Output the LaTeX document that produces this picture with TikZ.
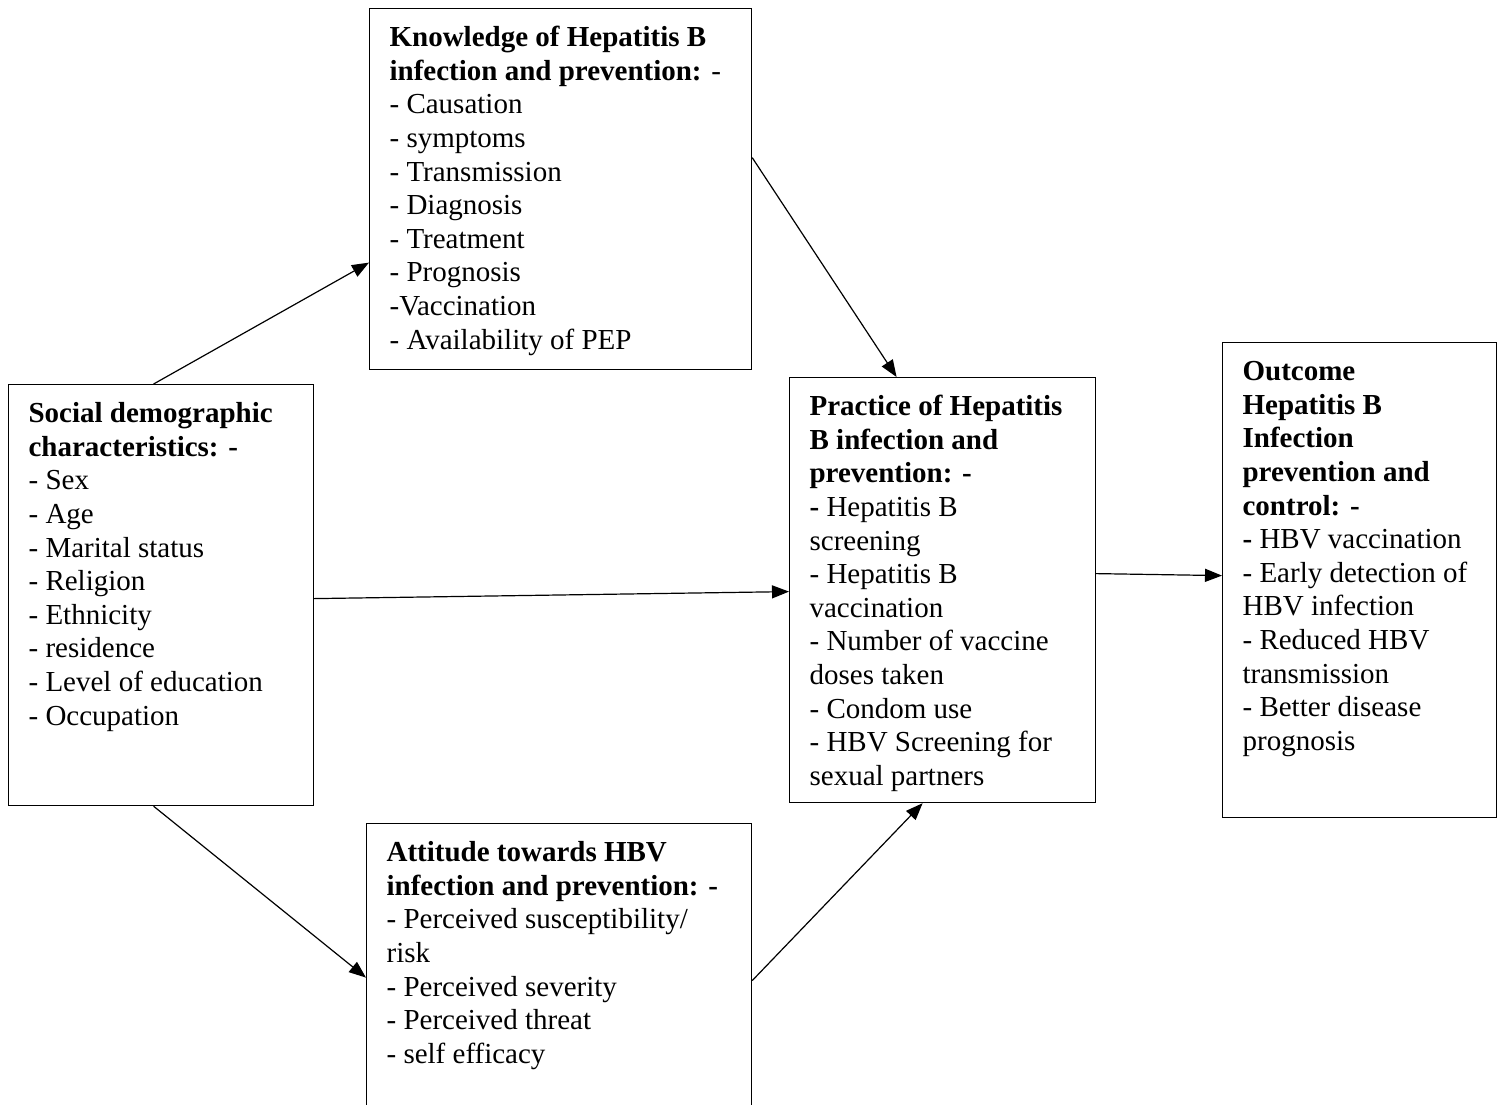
\documentclass[tikz,border=0pt]{standalone}
\usepackage{fontspec}
\setmainfont{Liberation Serif}
\usetikzlibrary{arrows.meta, calc}
\tikzset{
  >={Triangle[length=17pt, width=13pt]},
  factor/.style={
    rectangle, draw=black, line width=1.2pt, anchor=north west,
    inner sep=0pt
  },
  linkarrow/.style={->, black, line width=1.2pt}
}
% box body: width, height, lines (top aligned, 20pt left indent)
\newcommand{\factortext}[3]{%
  \parbox[c][#2][t]{#1}{\raggedright\leftskip=20pt\rule{0pt}{38pt}#3}}

\begin{document}
\begin{tikzpicture}[x=1pt, y=-1pt, font=\fontsize{29}{33.6}\selectfont]
\useasboundingbox (0,0) rectangle (1497,1104);

% ── Socio-demographic factors (left) ─────────────────────────────────────────
\node[factor] (soc) at (8,384) {\factortext{305pt}{421pt}{%
  \textbf{Social demographic}\\
  \textbf{characteristics: -}\\
  - Sex\\
  - Age\\
  - Marital status\\
  - Religion\\
  - Ethnicity\\
  - residence\\
  - Level of education\\
  - Occupation}};

% ── Knowledge (top) ──────────────────────────────────────────────────────────
\node[factor] (know) at (369,8) {\factortext{382pt}{361pt}{%
  \textbf{Knowledge of Hepatitis B}\\
  \textbf{infection and prevention:} -\\
  - Causation\\
  - symptoms\\
  - Transmission\\
  - Diagnosis\\
  - Treatment\\
  - Prognosis\\
  -Vaccination\\
  - Availability of PEP}};

% ── Attitude (bottom, runs off the page) ─────────────────────────────────────
\node[factor] (atti) at (366,823) {\factortext{385pt}{300pt}{%
  \textbf{Attitude towards HBV}\\
  \textbf{infection and prevention: -}\\
  - Perceived susceptibility/\\
  risk\\
  - Perceived severity\\
  - Perceived threat\\
  - self efficacy}};

% ── Practice (middle) ────────────────────────────────────────────────────────
\node[factor] (prac) at (789,377) {\factortext{306pt}{425pt}{%
  \textbf{Practice of Hepatitis}\\
  \textbf{B infection and}\\
  \textbf{prevention: -}\\
  \textbf{-} Hepatitis B\\
  screening\\
  - Hepatitis B\\
  vaccination\\
  - Number of vaccine\\
  doses taken\\
  - Condom use\\
  - HBV Screening for\\
  sexual partners}};

% ── Outcome (right) ──────────────────────────────────────────────────────────
\node[factor] (outc) at (1222,342) {\factortext{274pt}{475pt}{%
  \textbf{Outcome}\\
  \textbf{Hepatitis B}\\
  \textbf{Infection}\\
  \textbf{prevention and}\\
  \textbf{control: -}\\
  \textbf{-} HBV vaccination\\
  - Early detection of\\
  HBV infection\\
  - Reduced HBV\\
  transmission\\
  - Better disease\\
  prognosis}};

% ── Arrows ───────────────────────────────────────────────────────────────────
\draw[linkarrow] ([xshift=-7.5pt] soc.north) -- ([yshift=-73.5pt] know.west);
\draw[linkarrow] ([xshift=-7.5pt] soc.south) -- ([yshift=-4pt] atti.west);
\draw[linkarrow] ([yshift=-3.5pt] soc.east) -- ([yshift=-1.5pt] prac.west);
\draw[linkarrow] ([yshift=31.5pt] know.east) -- ([xshift=-46pt] prac.north);
\draw[linkarrow] ([yshift=-7pt] atti.east) -- ([xshift=-20pt] prac.south);
\draw[linkarrow] ([yshift=16.5pt] prac.east) -- ([yshift=4.5pt] outc.west);

\end{tikzpicture}
\end{document}
